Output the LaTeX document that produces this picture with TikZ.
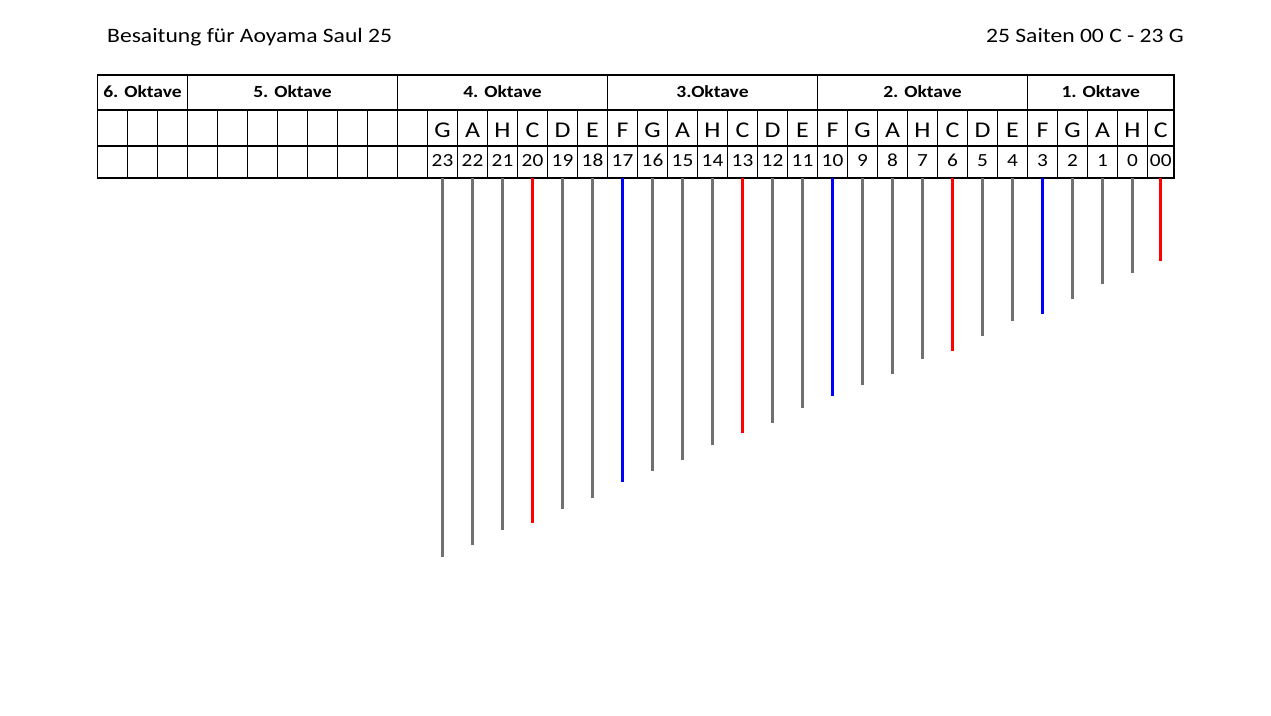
\documentclass[tikz,border=0pt]{standalone}
\usepackage{fontspec}
\setmainfont{Carlito}[FakeStretch=1.15]
\definecolor{strgray}{RGB}{112,112,112}
\definecolor{strred}{RGB}{255,0,0}
\definecolor{strblue}{RGB}{0,0,255}
\begin{document}
\begin{tikzpicture}[x=1pt,y=-1pt,
  box/.style={draw=black, line width=1.2pt, anchor=north west, inner sep=0pt, outer sep=0pt},
  head/.style={anchor=base, font=\fontsize{17}{20}\selectfont\bfseries},
  notetxt/.style={anchor=base, font=\fontsize{22.5}{26}\selectfont},
  numtxt/.style={anchor=base, font=\fontsize{18.5}{22}\selectfont},
  titletxt/.style={font=\fontsize{20.5}{24}\selectfont},
  saite/.style={line width=3pt}]
\useasboundingbox (0,0) rectangle (1271,715);
% titles
\node[titletxt, anchor=base west, inner sep=0pt] (title) at (107,42.5) {Besaitung für Aoyama Saul 25};
\node[titletxt, anchor=base east, inner sep=0pt] (subtitle) at (1184,42.5) {25 Saiten 00 C - 23 G};
% header row
\foreach \nm/\x/\w/\txt in {h6/97.5/90/6. Oktave, h5/187.5/210/5. Oktave, h4/397.5/210/4. Oktave, h3/607.5/210/3.Oktave, h2/817.5/210/2. Oktave, h1/1027.5/146.5/1. Oktave}{
  \node[box, minimum width=\w pt, minimum height=35pt] (\nm) at (\x,75) {};
  \node[head] (\nm t) at (\nm.center |- 0,97.7) {\txt};
}
% note and number rows
\foreach \k in {0,...,34}{
  \node[box, minimum width=30pt, minimum height=36pt] (r2c\k) at (97.5+30*\k,110) {};
  \node[box, minimum width=30pt, minimum height=32pt] (r3c\k) at (97.5+30*\k,146) {};
}
\node[box, minimum width=26.5pt, minimum height=36pt] (r2c35) at (1147.5,110) {};
\node[box, minimum width=26.5pt, minimum height=32pt] (r3c35) at (1147.5,146) {};
% strings
\foreach \lab/\note/\col/\yend [count=\k from 11] in {
  23/G/strgray/557, 22/A/strgray/545, 21/H/strgray/529.5, 20/C/strred/523,
  19/D/strgray/508.5, 18/E/strgray/497.5, 17/F/strblue/482, 16/G/strgray/471,
  15/A/strgray/460, 14/H/strgray/445, 13/C/strred/433, 12/D/strgray/423,
  11/E/strgray/408, 10/F/strblue/396, 9/G/strgray/385, 8/A/strgray/374,
  7/H/strgray/359, 6/C/strred/351, 5/D/strgray/336, 4/E/strgray/321,
  3/F/strblue/314, 2/G/strgray/299, 1/A/strgray/284, 0/H/strgray/273, 00/C/strred/261}{
  \node[notetxt] (note\k) at (r2c\k.center |- 0,137.7) {\note};
  \node[numtxt] (num\k) at (r3c\k.center |- 0,166.7) {\lab};
  \coordinate (e\k) at (r3c\k.south |- 0,\yend);
  \draw[saite, draw=\col] (r3c\k.south) -- (e\k);
}
\end{tikzpicture}
\end{document}
